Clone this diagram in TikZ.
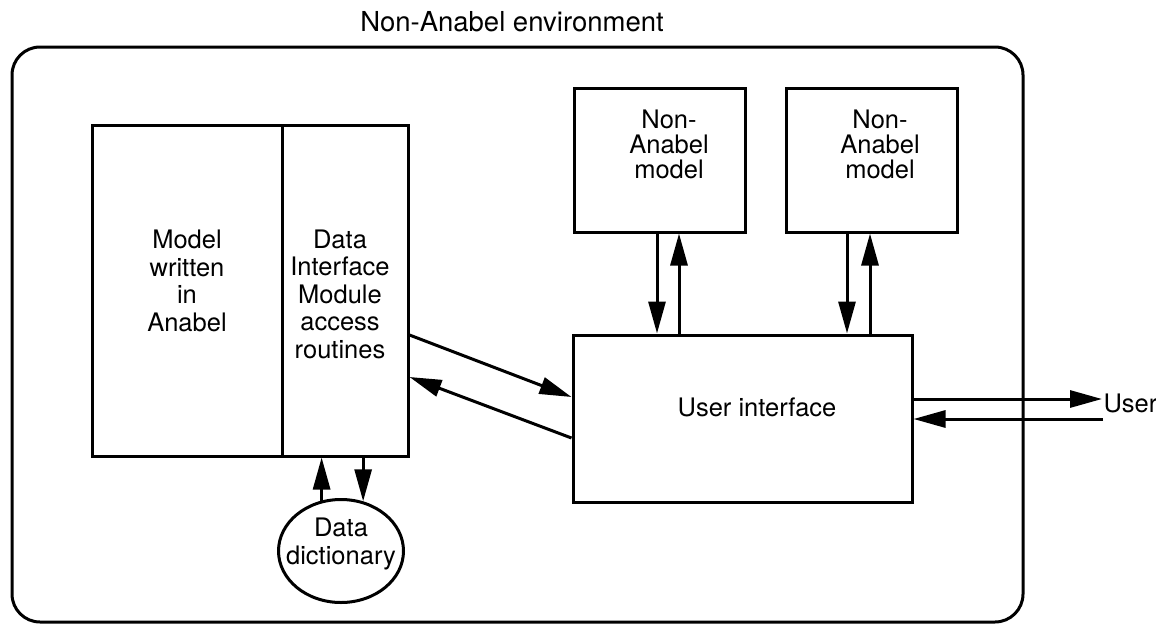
\documentclass[tikz,border=0pt]{standalone}
\usepackage{fontspec}
\setmainfont{TeX Gyre Heros}
\usetikzlibrary{arrows.meta,shapes.geometric}
\begin{document}
\begin{tikzpicture}[x=1pt,y=-1pt,line width=3pt,
  box/.style={draw,rectangle,inner sep=0pt},
  txt/.style={align=center,inner sep=0pt,font=\fontsize{25.5}{27.5}\selectfont},
  tight/.style={font=\fontsize{25.5}{25}\selectfont},
  arr/.style={-{Triangle[length=32pt,width=17pt]}},
  env/.style={draw,rounded corners=28pt}]
\useasboundingbox (0,0) rectangle (1156,624);
% environment
\draw[env] (12,47) rectangle (1023,622);
\node[txt,anchor=base,font=\fontsize{27.5}{30}\selectfont] (title) at (512,31) {Non-Anabel environment};
% boxes
\node[box,minimum width=190pt,minimum height=331pt] (mod) at (187,290.5) {};
\node[box,minimum width=126pt,minimum height=331pt] (dim) at (345,290.5) {};
\node[box,minimum width=171pt,minimum height=144pt] (na1) at (659.5,160) {};
\node[box,minimum width=171pt,minimum height=144pt] (na2) at (871.5,160) {};
\node[box,minimum width=339pt,minimum height=167pt] (ui) at (742.5,418.5) {};
\node[draw,ellipse,inner sep=0pt,minimum width=125pt,minimum height=103pt] (dd) at (341,551) {};
% texts
\node[txt] (modt) at (187,281) {Model\\written\\in\\Anabel};
\node[txt] (dimt) at (340,294) {Data\\Interface\\Module\\access\\routines};
\node[txt,tight] (na1t) at (669,144) {Non-\\Anabel\\model};
\node[txt,tight] (na2t) at (880,144) {Non-\\Anabel\\model};
\node[txt] (uit) at (757,407) {User interface};
\node[txt] (ddt) at (341,544) {Data\\dictionary};
\node[txt,anchor=base west] (user) at (1102,412) {User};
% helper coordinates
\coordinate (x1d) at (657,0);
\coordinate (x1u) at (679,0);
\coordinate (x2d) at (847,0);
\coordinate (x2u) at (870,0);
\coordinate (ya) at (0,335);
\coordinate (yb) at (0,397);
\coordinate (yc) at (0,438);
\coordinate (yd) at (0,377);
\coordinate (uo) at (0,399);
\coordinate (uin) at (1103,419);
% arrows
\draw[arr] (na1.south -| x1d) -- (ui.north -| x1d);
\draw[arr] (ui.north -| x1u) -- (na1.south -| x1u);
\draw[arr] (na2.south -| x2d) -- (ui.north -| x2d);
\draw[arr] (ui.north -| x2u) -- (na2.south -| x2u);
\draw[arr] (dim.east |- ya) -- (ui.west |- yb);
\draw[arr] (ui.west |- yc) -- (dim.east |- yd);
\draw[arr] (dd.111) -- (dim.south -| dd.111);
\draw[arr] (dim.south -| dd.66) -- (dd.66);
\draw[arr] (ui.east |- uo) -- (user.west |- uo);
\draw[arr] (uin) -- (ui.east |- uin);
\end{tikzpicture}
\end{document}
